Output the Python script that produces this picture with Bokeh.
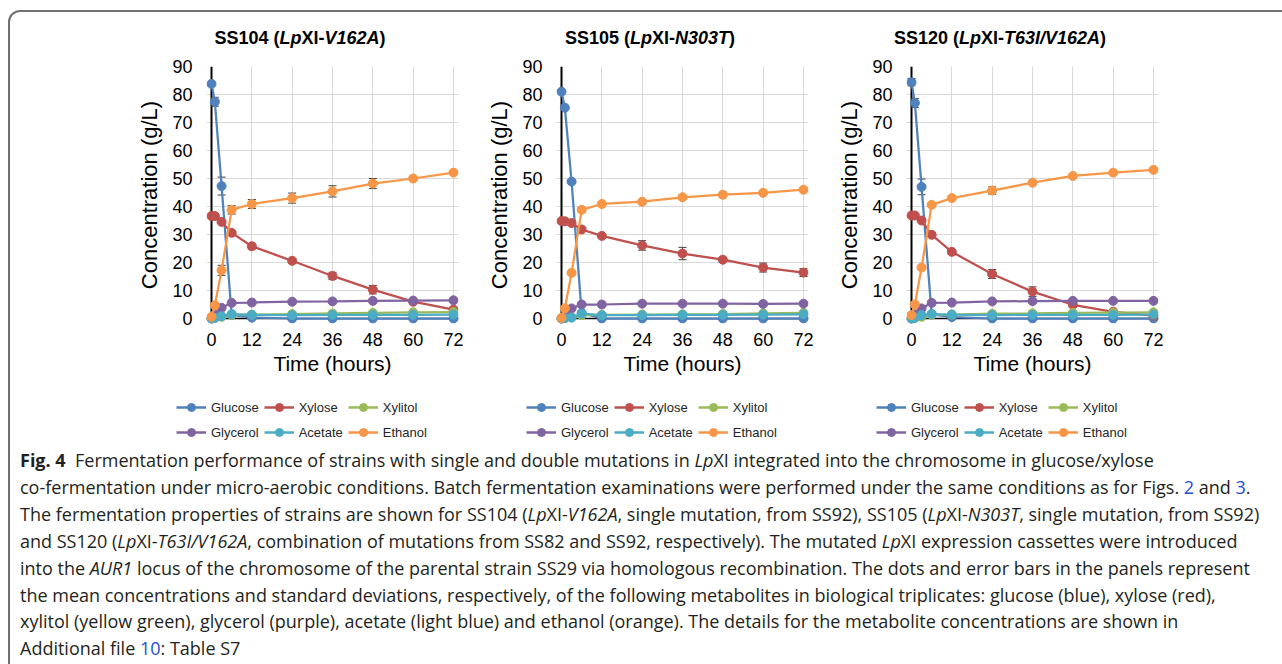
from bokeh.plotting import figure
from bokeh.models import (Range1d, FixedTicker, Span, Whisker, TeeHead,
                          ColumnDataSource, Legend, LegendItem, Div, Spacer)
from bokeh.layouts import column, row
from bokeh.embed import file_html
from bokeh.resources import INLINE

# ---------------- data ----------------
hours = [0, 1, 3, 6, 12, 24, 36, 48, 60, 72]
series_names = ["Glucose", "Xylose", "Xylitol", "Glycerol", "Acetate", "Ethanol"]
x_tick_values = [0, 12, 24, 36, 48, 60, 72]
y_tick_values = [0, 10, 20, 30, 40, 50, 60, 70, 80, 90]
panel_titles = [
    "SS104 (<i>Lp</i>XI-<i>V162A</i>)",
    "SS105 (<i>Lp</i>XI-<i>N303T</i>)",
    "SS120 (<i>Lp</i>XI-<i>T63I/V162A</i>)",
]

# SS104
ss104_glucose = [83.8, 77.4, 47.3, 1.3, 0.3, 0.0, 0.0, 0.0, 0.0, 0.0]
ss104_glucose_sd = [0.5, 1.6, 3.2, 0.3, 0.1, 0.0, 0.0, 0.0, 0.0, 0.0]
ss104_xylose = [36.6, 36.6, 34.5, 30.6, 25.8, 20.6, 15.2, 10.3, 6.0, 3.2]
ss104_xylose_sd = [0.3, 0.3, 0.5, 0.8, 1.0, 0.8, 1.3, 1.5, 0.5, 0.4]
ss104_xylitol = [0.0, 0.2, 0.6, 1.3, 1.4, 1.6, 1.8, 2.0, 2.2, 2.3]
ss104_xylitol_sd = [0.0, 0.1, 0.1, 0.1, 0.1, 0.1, 0.1, 0.1, 0.1, 0.1]
ss104_glycerol = [0.0, 1.4, 3.8, 5.6, 5.7, 6.0, 6.1, 6.3, 6.4, 6.5]
ss104_glycerol_sd = [0.0, 0.1, 0.2, 0.2, 0.2, 0.2, 0.2, 0.2, 0.2, 0.2]
ss104_acetate = [0.0, 0.2, 0.8, 1.6, 1.3, 1.2, 1.3, 1.3, 1.3, 1.4]
ss104_acetate_sd = [0.0, 0.1, 0.1, 0.1, 0.1, 0.1, 0.1, 0.1, 0.1, 0.1]
ss104_ethanol = [0.6, 4.7, 17.2, 38.8, 40.9, 43.0, 45.4, 48.2, 50.0, 52.1]
ss104_ethanol_sd = [0.1, 0.5, 1.8, 1.5, 1.6, 1.8, 2.0, 1.8, 0.6, 0.5]

# SS105
ss105_glucose = [81.0, 75.3, 48.9, 2.0, 0.0, 0.0, 0.0, 0.0, 0.0, 0.0]
ss105_glucose_sd = [0.4, 0.6, 0.6, 0.3, 0.0, 0.0, 0.0, 0.0, 0.0, 0.0]
ss105_xylose = [34.8, 34.7, 34.1, 31.8, 29.5, 26.1, 23.2, 21.0, 18.2, 16.4]
ss105_xylose_sd = [0.3, 0.3, 0.4, 0.6, 0.8, 1.7, 2.2, 0.8, 1.6, 1.4]
ss105_xylitol = [0.0, 0.2, 0.5, 1.2, 1.3, 1.4, 1.5, 1.6, 1.8, 2.0]
ss105_xylitol_sd = [0.0, 0.1, 0.1, 0.1, 0.1, 0.1, 0.1, 0.1, 0.1, 0.1]
ss105_glycerol = [0.0, 1.0, 3.6, 5.0, 5.0, 5.3, 5.3, 5.3, 5.2, 5.3]
ss105_glycerol_sd = [0.0, 0.1, 0.2, 0.2, 0.2, 0.2, 0.2, 0.2, 0.2, 0.2]
ss105_acetate = [0.0, 0.1, 0.3, 1.7, 1.2, 1.2, 1.3, 1.3, 1.4, 1.5]
ss105_acetate_sd = [0.0, 0.1, 0.1, 0.1, 0.1, 0.1, 0.1, 0.1, 0.1, 0.1]
ss105_ethanol = [0.2, 3.6, 16.3, 38.8, 40.9, 41.7, 43.3, 44.2, 44.9, 46.0]
ss105_ethanol_sd = [0.1, 0.4, 0.6, 0.8, 0.6, 0.6, 0.7, 0.9, 0.5, 0.5]

# SS120
ss120_glucose = [84.4, 77.0, 47.0, 1.5, 0.5, 0.0, 0.0, 0.0, 0.0, 0.0]
ss120_glucose_sd = [1.3, 1.6, 2.8, 0.3, 0.1, 0.0, 0.0, 0.0, 0.0, 0.0]
ss120_xylose = [36.8, 36.8, 35.0, 29.9, 23.8, 15.9, 9.6, 4.9, 2.4, 1.0]
ss120_xylose_sd = [0.3, 0.3, 0.5, 0.6, 0.8, 1.6, 1.7, 0.8, 0.4, 0.3]
ss120_xylitol = [0.0, 0.2, 0.6, 1.3, 1.4, 1.7, 1.8, 2.0, 2.1, 2.2]
ss120_xylitol_sd = [0.0, 0.1, 0.1, 0.1, 0.1, 0.1, 0.1, 0.1, 0.1, 0.1]
ss120_glycerol = [0.0, 1.5, 3.6, 5.6, 5.7, 6.1, 6.2, 6.3, 6.3, 6.3]
ss120_glycerol_sd = [0.0, 0.1, 0.2, 0.2, 0.2, 0.2, 0.2, 0.2, 0.2, 0.2]
ss120_acetate = [0.0, 0.3, 1.2, 1.6, 1.4, 1.2, 1.3, 1.3, 1.3, 1.4]
ss120_acetate_sd = [0.0, 0.1, 0.1, 0.1, 0.1, 0.1, 0.1, 0.1, 0.1, 0.1]
ss120_ethanol = [1.2, 5.0, 18.2, 40.6, 43.0, 45.7, 48.5, 50.9, 52.1, 53.1]
ss120_ethanol_sd = [0.2, 0.4, 0.7, 0.5, 0.5, 1.3, 0.6, 0.6, 0.5, 0.5]

panels_data = [
    [(ss104_glucose, ss104_glucose_sd), (ss104_xylose, ss104_xylose_sd),
     (ss104_xylitol, ss104_xylitol_sd), (ss104_glycerol, ss104_glycerol_sd),
     (ss104_acetate, ss104_acetate_sd), (ss104_ethanol, ss104_ethanol_sd)],
    [(ss105_glucose, ss105_glucose_sd), (ss105_xylose, ss105_xylose_sd),
     (ss105_xylitol, ss105_xylitol_sd), (ss105_glycerol, ss105_glycerol_sd),
     (ss105_acetate, ss105_acetate_sd), (ss105_ethanol, ss105_ethanol_sd)],
    [(ss120_glucose, ss120_glucose_sd), (ss120_xylose, ss120_xylose_sd),
     (ss120_xylitol, ss120_xylitol_sd), (ss120_glycerol, ss120_glycerol_sd),
     (ss120_acetate, ss120_acetate_sd), (ss120_ethanol, ss120_ethanol_sd)],
]

# ---------------- style ----------------
COLORS = ["#4F81BD", "#C0504D", "#9BBB59", "#8064A2", "#4BACC6", "#F79646"]
FONT = "Liberation Sans"
XPAD = 5 * 72 / 242
YPAD = 5 * 90 / 252
ERR = "#404040"


def make_panel(data):
    p = figure(width=350, height=329,
               x_range=Range1d(-XPAD, 72 + XPAD), y_range=Range1d(-YPAD, 90),
               min_border_left=81, min_border_right=17,
               min_border_top=10, min_border_bottom=62,
               output_backend="svg", toolbar_location=None)
    p.outline_line_color = None
    p.background_fill_color = "white"
    p.border_fill_color = "white"
    p.xaxis.ticker = FixedTicker(ticks=x_tick_values)
    p.yaxis.ticker = FixedTicker(ticks=y_tick_values)
    p.xgrid.ticker = FixedTicker(ticks=x_tick_values)
    p.ygrid.ticker = FixedTicker(ticks=y_tick_values)
    p.grid.grid_line_color = "#d9d9d9"
    p.grid.grid_line_width = 1
    for ax in (p.xaxis, p.yaxis):
        ax.axis_line_color = None
        ax.major_tick_line_color = None
        ax.minor_tick_line_color = None
        ax.major_label_text_font = FONT
        ax.major_label_text_font_size = "18px"
        ax.major_label_text_color = "black"
        ax.axis_label_text_font = FONT
        ax.axis_label_text_font_style = "normal"
        ax.axis_label_text_color = "black"
    p.xaxis.axis_label = "Time (hours)"
    p.xaxis.axis_label_text_font_size = "21px"
    p.xaxis.major_label_standoff = 3
    p.xaxis.axis_label_standoff = 3
    p.yaxis.axis_label = "Concentration (g/L)"
    p.yaxis.axis_label_text_font_size = "22px"
    p.yaxis.major_label_standoff = 8
    p.yaxis.axis_label_standoff = 7

    p.add_layout(Span(location=0, dimension="height", line_color="black",
                      line_width=2, level="underlay"))
    p.add_layout(Span(location=0, dimension="width", line_color="black",
                      line_width=1.5, level="underlay"))

    sources = []
    for (mean, sd), color in zip(data, COLORS):
        src = ColumnDataSource(dict(
            x=hours, y=mean,
            lo=[m - s for m, s in zip(mean, sd)],
            hi=[m + s for m, s in zip(mean, sd)]))
        p.add_layout(Whisker(source=src, base="x", upper="hi", lower="lo",
                             line_color=ERR, line_width=1,
                             upper_head=TeeHead(size=8, line_color=ERR, line_width=1),
                             lower_head=TeeHead(size=8, line_color=ERR, line_width=1)))
        p.line("x", "y", source=src, line_color=color, line_width=2.25)
        p.scatter("x", "y", source=src, size=9, fill_color=color, line_color=color)
        sources.append(src)
    return p, sources


def make_legend(sources):
    # legend-only figure: same series, view range placed away from the data
    p = figure(width=350, height=60, x_range=Range1d(1000, 1001),
               y_range=Range1d(1000, 1001), min_border=0,
               x_axis_location=None, y_axis_location=None,
               output_backend="svg", toolbar_location=None)
    p.outline_line_color = None
    p.background_fill_color = "white"
    p.border_fill_color = "white"
    p.grid.visible = False
    items = []
    for name, src, color in zip(series_names, sources, COLORS):
        lr = p.line("x", "y", source=src, line_color=color, line_width=2.5)
        sr = p.scatter("x", "y", source=src, size=8, fill_color=color, line_color=color)
        items.append(LegendItem(label=name, renderers=[lr, sr]))
    leg = Legend(items=items, location=(51, 3), orientation="horizontal", ncols=3,
                 padding=0, margin=0, spacing=5, glyph_width=30, glyph_height=20,
                 label_height=20, label_standoff=5,
                 label_text_font=FONT, label_text_font_size="13px",
                 label_text_color="#262626",
                 border_line_color=None, background_fill_alpha=0)
    p.add_layout(leg, "center")
    return p


def title_div(html):
    return Div(text=f'<div style="font-family:\'{FONT}\';font-weight:bold;'
                    f'font-size:18px;color:black;text-align:center;width:340px;'
                    f'padding-left:10px;padding-top:26px;white-space:nowrap">{html}</div>',
               width=350, height=56, margin=0)


LINK = "color:#1f4fd0"
caption_html = (
    '<div style="position:fixed;left:8px;top:10px;width:2000px;height:2000px;'
    'border:2px solid #707070;border-radius:12px;pointer-events:none"></div>'
    '<div style="font-family:\'Open Sans\';font-size:18px;line-height:26.9px;'
    'color:#231f20;padding-left:20px;padding-top:2px;white-space:nowrap">'
    '<b>Fig. 4</b>&nbsp; Fermentation performance of strains with single and double mutations in '
    '<i>Lp</i>XI integrated into the chromosome in glucose/xylose<br>'
    'co-fermentation under micro-aerobic conditions. Batch fermentation examinations were '
    f'performed under the same conditions as for Figs. <span style="{LINK}">2</span> and '
    f'<span style="{LINK}">3</span>.<br>'
    'The fermentation properties of strains are shown for SS104 (<i>Lp</i>XI-<i>V162A</i>, '
    'single mutation, from SS92), SS105 (<i>Lp</i>XI-<i>N303T</i>, single mutation, from SS92)<br>'
    'and SS120 (<i>Lp</i>XI-<i>T63I/V162A</i>, combination of mutations from SS82 and SS92, '
    'respectively). The mutated <i>Lp</i>XI expression cassettes were introduced<br>'
    'into the <i>AUR1</i> locus of the chromosome of the parental strain SS29 via homologous '
    'recombination. The dots and error bars in the panels represent<br>'
    'the mean concentrations and standard deviations, respectively, of the following '
    'metabolites in biological triplicates: glucose (blue), xylose (red),<br>'
    'xylitol (yellow green), glycerol (purple), acetate (light blue) and ethanol (orange). '
    'The details for the metabolite concentrations are shown in<br>'
    f'Additional file <span style="{LINK}">10</span>: Table S7'
    '</div>'
)

built = [make_panel(d) for d in panels_data]
titles = row(Spacer(width=125, height=56), *[title_div(t) for t in panel_titles])
panels = row(Spacer(width=125, height=329), *[b[0] for b in built])
legends = row(Spacer(width=125, height=60), *[make_legend(b[1]) for b in built])
caption = Div(text=caption_html, width=1282, height=219, margin=0)

layout = column(titles, panels, legends, caption)

open("out.html", "w").write(file_html(layout, INLINE))
